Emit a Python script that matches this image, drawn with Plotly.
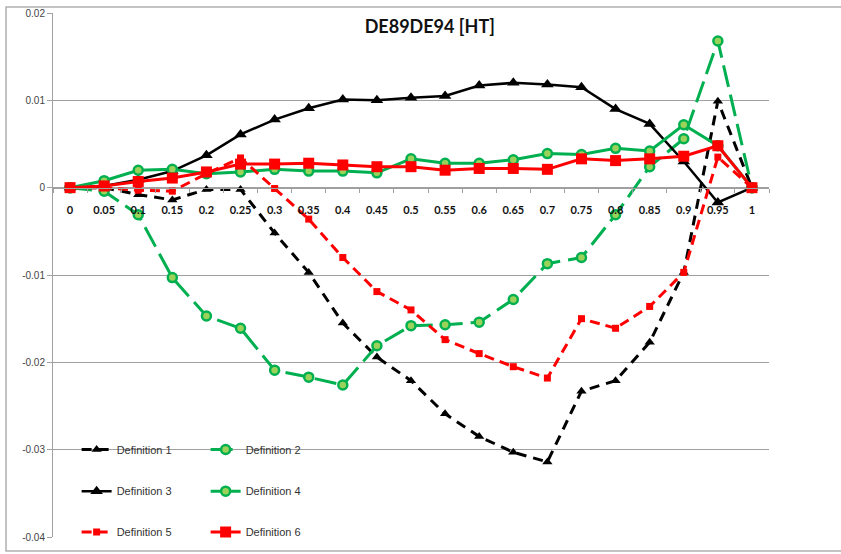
import plotly.graph_objects as go

categories = ["0", "0.05", "0.1", "0.15", "0.2", "0.25", "0.3", "0.35", "0.4", "0.45", "0.5",
              "0.55", "0.6", "0.65", "0.7", "0.75", "0.8", "0.85", "0.9", "0.95", "1"]

def1 = [0, 0.0, -0.0008, -0.0014, -0.0002, -0.0002, -0.0052, -0.0097, -0.0155, -0.0194, -0.0221,
        -0.0259, -0.0285, -0.0303, -0.0314, -0.0233, -0.0221, -0.0177, -0.0097, 0.0099, 0]
def2 = [0, -0.0004, -0.0031, -0.0103, -0.0147, -0.0161, -0.0209, -0.0217, -0.0226, -0.0181, -0.0158,
        -0.0157, -0.0154, -0.0128, -0.0087, -0.0080, -0.0031, 0.0024, 0.0056, 0.0168, 0]
def3 = [0, 0.0002, 0.0009, 0.0019, 0.0037, 0.0061, 0.0078, 0.0091, 0.0101, 0.0100, 0.0103,
        0.0105, 0.0117, 0.0120, 0.0118, 0.0115, 0.0090, 0.0073, 0.0030, -0.0017, 0]
def4 = [0, 0.0008, 0.0020, 0.0021, 0.0016, 0.0018, 0.0021, 0.0019, 0.0019, 0.0017, 0.0033,
        0.0028, 0.0028, 0.0032, 0.0039, 0.0038, 0.0045, 0.0042, 0.0072, 0.0048, 0]
def5 = [0, 0.0, -0.0003, -0.0004, 0.0016, 0.0034, -0.0001, -0.0036, -0.0080, -0.0119, -0.0140,
        -0.0174, -0.0190, -0.0205, -0.0218, -0.0150, -0.0161, -0.0136, -0.0097, 0.0035, 0]
def6 = [0, 0.0002, 0.0007, 0.0011, 0.0018, 0.0027, 0.0027, 0.0028, 0.0026, 0.0024, 0.0024,
        0.0020, 0.0022, 0.0022, 0.0021, 0.0033, 0.0031, 0.0033, 0.0036, 0.0048, 0]

y_ticks = [0.02, 0.01, 0, -0.01, -0.02, -0.03, -0.04]
y_labels = ["0.02", "0.01", "0", "-0.01", "-0.02", "-0.03", "-0.04"]

GREEN = "#00b050"
LIGHT_GREEN = "#9bd35a"
RED = "#ff0000"

series = [
    ("Definition 1", def1, "black", "10px,7px", 3, "triangle-up", 9, "black", "legend"),
    ("Definition 2", def2, GREEN, "22px,8px", 3, "circle", 9, LIGHT_GREEN, "legend"),
    ("Definition 3", def3, "black", "solid", 2.5, "triangle-up", 11, "black", "legend2"),
    ("Definition 4", def4, GREEN, "solid", 3, "circle", 9, LIGHT_GREEN, "legend2"),
    ("Definition 5", def5, RED, "10px,6px", 3, "square", 7, RED, "legend3"),
    ("Definition 6", def6, RED, "solid", 3, "square", 11, RED, "legend3"),
]

fig = go.Figure()
for name, vals, color, dash, width, symbol, size, fill, leg in series:
    fig.add_trace(go.Scatter(
        x=categories, y=vals, name=name, mode="lines+markers",
        line=dict(color=color, dash=dash, width=width),
        marker=dict(symbol=symbol, size=size, color=fill,
                    line=dict(color=color, width=2.5 if symbol == "circle" else 0)),
        legend=leg,
    ))

grid = "#a0a0a0"
legend_common = dict(orientation="h", xanchor="left", yanchor="middle", x=0.033,
                     entrywidth=84, entrywidthmode="pixels", itemwidth=30,
                     bgcolor="rgba(0,0,0,0)",
                     font=dict(family="Liberation Sans, Arial", size=11, color="#333333"))

fig.update_layout(
    width=841, height=554,
    margin=dict(l=53, r=72, t=13, b=17, autoexpand=False),
    paper_bgcolor="white", plot_bgcolor="white",
    title=dict(text="DE89DE94 [HT]", x=0.511, xanchor="center", y=0.951, yanchor="middle",
               font=dict(family="Lato, Open Sans", size=18, color="#111111", weight="bold")),
    legend=dict(y=0.167, **legend_common),
    legend2=dict(y=0.0875, **legend_common),
    legend3=dict(y=0.0095, **legend_common),
    xaxis=dict(type="category", range=[-0.5, len(categories) - 0.5],
               anchor="free", position=4 / 6, automargin=False,
               showline=True, linecolor=grid, linewidth=1,
               ticks="outside", tickson="boundaries", ticklen=4, tickcolor=grid,
               ticklabelstandoff=12, tickangle=0, showgrid=False, zeroline=False,
               tickfont=dict(family="Lato, Open Sans", size=11, color="#111111", weight="bold")),
    yaxis=dict(range=[-0.04, 0.02], tickvals=y_ticks, ticktext=y_labels, automargin=False,
               showline=True, linecolor=grid, linewidth=1,
               ticks="outside", ticklen=5, tickcolor=grid,
               showgrid=True, gridcolor=grid, gridwidth=1, zeroline=False,
               tickfont=dict(family="Liberation Sans, Arial", size=10, color="#444444")),
    shapes=[dict(type="rect", xref="paper", yref="paper",
                 x0=-0.0656, x1=1.3, y0=-0.0266, y1=1.0114,
                 line=dict(color="#b0b0b0", width=1.5), fillcolor="rgba(0,0,0,0)",
                 layer="below")],
)

# page body has a default 8px margin; drop it so the chart sits at the window corner
fig.write_html("out.html", config={"displayModeBar": False},
               post_script="document.body.style.margin='0';")
